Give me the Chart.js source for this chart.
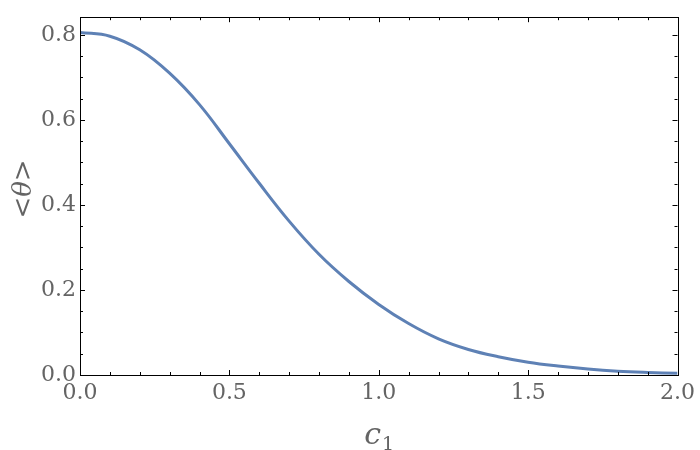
<!DOCTYPE html>
<html>
<head>
<meta charset="utf-8">
<script src="https://cdn.jsdelivr.net/npm/chart.js@4"></script>
<style>
  html, body { margin: 0; padding: 0; background: #fff; }
  #wrap { width: 700px; height: 450px; }
</style>
</head>
<body>
<div id="wrap"><canvas id="thetaChart" width="700" height="450"></canvas></div>
<script>
// curve
const c1Values = [0, 0.1, 0.2, 0.3, 0.4, 0.5, 0.6, 0.7, 0.8, 0.9, 1.0,
                  1.1, 1.2, 1.3, 1.4, 1.5, 1.6, 1.7, 1.8, 1.9, 2.0];
const thetaValues = [0.806, 0.797, 0.765, 0.710, 0.636, 0.544, 0.451, 0.362, 0.284, 0.220, 0.166,
                     0.121, 0.085, 0.060, 0.043, 0.030, 0.021, 0.014, 0.009, 0.006, 0.004];

// ticks
const xMajor = [0, 0.5, 1.0, 1.5, 2.0];
const xMinor = [0.1, 0.2, 0.3, 0.4, 0.6, 0.7, 0.8, 0.9, 1.1, 1.2, 1.3, 1.4, 1.6, 1.7, 1.8, 1.9];
const yMajor = [0, 0.2, 0.4, 0.6, 0.8];
const yMinor = [0.05, 0.1, 0.15, 0.25, 0.3, 0.35, 0.45, 0.5, 0.55, 0.65, 0.7, 0.75];

const labelColor = '#646464';
const serif = "'DejaVu Serif', 'Liberation Serif', serif";

// Mathematica-style frame with inward ticks on all four sides
const framePlugin = {
  id: 'frame',
  afterDraw(chart) {
    const { ctx, chartArea: a, scales } = chart;
    ctx.save();
    ctx.strokeStyle = '#000';
    ctx.lineWidth = 1;
    ctx.strokeRect(Math.round(a.left) + 0.5, Math.round(a.top) + 0.5,
                   Math.round(a.right - a.left), Math.round(a.bottom - a.top));
    ctx.beginPath();
    const xt = (v, len) => {
      const px = Math.round(scales.x.getPixelForValue(v)) + 0.5;
      ctx.moveTo(px, a.bottom); ctx.lineTo(px, a.bottom - len);
      ctx.moveTo(px, a.top); ctx.lineTo(px, a.top + len);
    };
    const yt = (v, len) => {
      const py = Math.round(scales.y.getPixelForValue(v)) + 0.5;
      ctx.moveTo(a.left, py); ctx.lineTo(a.left + len, py);
      ctx.moveTo(a.right, py); ctx.lineTo(a.right - len, py);
    };
    xMajor.forEach(v => xt(v, 5));
    xMinor.forEach(v => xt(v, 3));
    yMajor.forEach(v => yt(v, 5));
    yMinor.forEach(v => yt(v, 3));
    ctx.stroke();

    // axis titles
    ctx.fillStyle = labelColor;
    ctx.textBaseline = 'alphabetic';
    // c_1
    const cx = scales.x.getPixelForValue(1.0);
    ctx.font = "italic 30px " + serif;
    const cw = ctx.measureText('c').width;
    ctx.font = "19px " + serif;
    const sw = ctx.measureText('1').width;
    const startX = cx - (cw + sw) / 2;
    ctx.font = "italic 30px " + serif;
    ctx.textAlign = 'left';
    ctx.fillText('c', startX, 444);
    ctx.font = "19px " + serif;
    ctx.fillText('1', startX + cw + 1, 450);

    // <θ>
    ctx.translate(31, 189);
    ctx.rotate(-Math.PI / 2);
    const parts = [['<', "26px " + serif], ['θ', "italic 26px " + serif], ['>', "26px " + serif]];
    let total = 0;
    parts.forEach(p => { ctx.font = p[1]; total += ctx.measureText(p[0]).width; });
    let x = -total / 2;
    parts.forEach(p => {
      ctx.font = p[1];
      ctx.fillText(p[0], x, 0);
      x += ctx.measureText(p[0]).width;
    });
    ctx.restore();
  }
};

new Chart(document.getElementById('thetaChart').getContext('2d'), {
  type: 'line',
  data: {
    datasets: [{
      data: c1Values.map((c, i) => ({ x: c, y: thetaValues[i] })),
      borderColor: '#5E81B5',
      borderWidth: 3,
      pointRadius: 0,
      tension: 0.4,
      fill: false
    }]
  },
  options: {
    responsive: false,
    animation: false,
    devicePixelRatio: 1,
    layout: { padding: { top: 5, right: 19, left: 0, bottom: 0 } },
    plugins: { legend: { display: false }, tooltip: { enabled: false } },
    scales: {
      x: {
        type: 'linear',
        min: 0,
        max: 2,
        grid: { display: false, drawTicks: false },
        border: { display: false },
        afterBuildTicks: s => { s.ticks = xMajor.map(v => ({ value: v })); },
        afterFit: s => { s.height = 75; },
        ticks: {
          padding: 5,
          color: labelColor,
          font: { family: serif, size: 22 },
          maxRotation: 0,
          callback: v => v.toFixed(1)
        }
      },
      y: {
        type: 'linear',
        min: 0,
        max: 0.8417,
        grid: { display: false, drawTicks: false },
        border: { display: false },
        afterBuildTicks: s => { s.ticks = yMajor.map(v => ({ value: v })); },
        afterFit: s => { s.width = 80; },
        ticks: {
          padding: 4,
          color: labelColor,
          font: { family: serif, size: 22 },
          callback: v => v.toFixed(1)
        }
      }
    }
  },
  plugins: [framePlugin]
});
</script>
</body>
</html>
